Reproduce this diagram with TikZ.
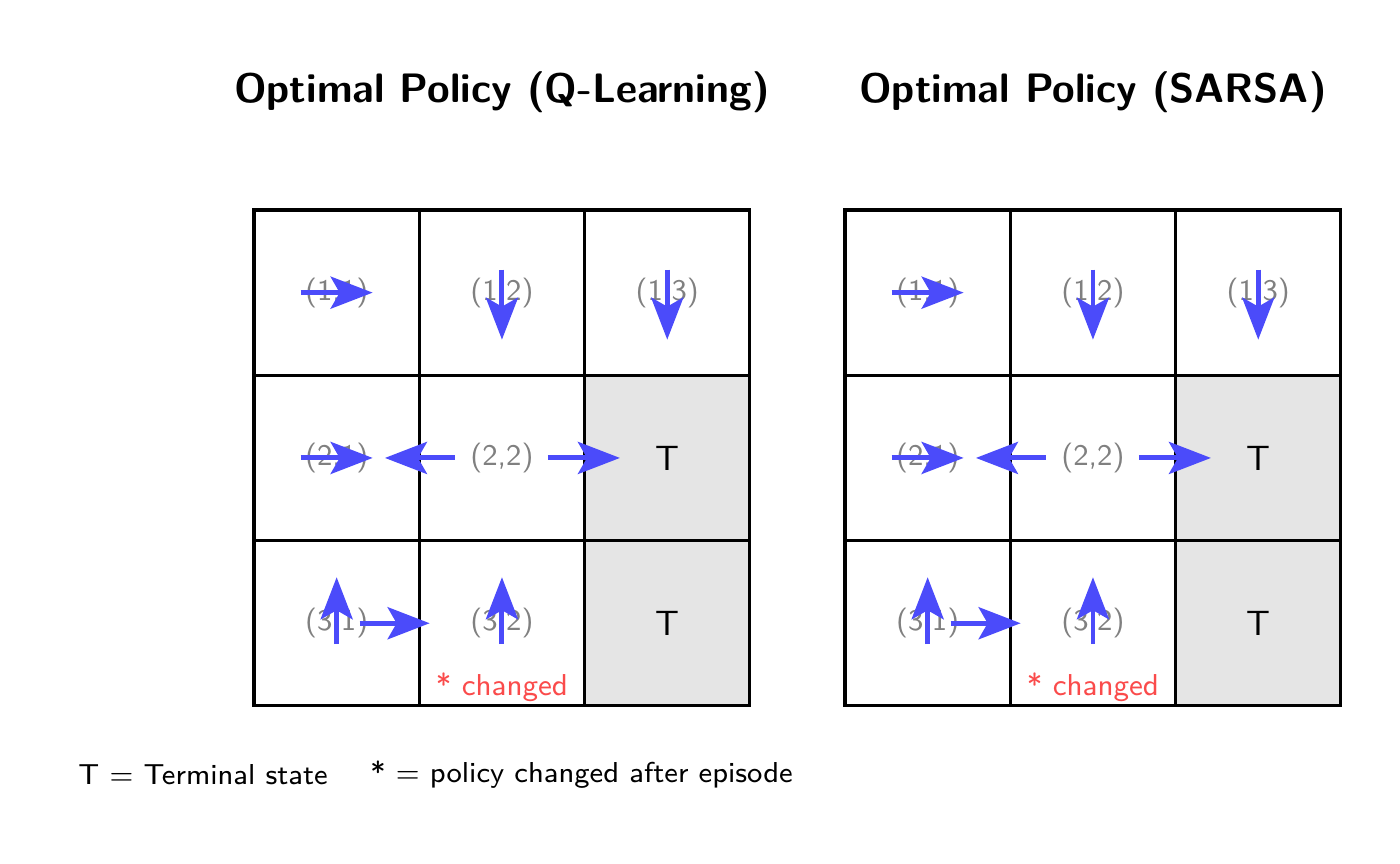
\documentclass[tikz,border=0pt]{standalone}
\usepackage{tikz}
\usetikzlibrary{arrows.meta, positioning, calc}
\definecolor{policyBlue}{RGB}{75, 75, 250}
\definecolor{changedRed}{RGB}{250, 75, 75}
\definecolor{terminalGray}{RGB}{229, 229, 229}
\renewcommand{\familydefault}{\sfdefault}

\begin{document}
\begin{tikzpicture}[
        cell/.style={rectangle, draw=black, line width=0.9pt, minimum size=1.653cm, inner sep=0pt, font=\fontsize{8.5}{10}\selectfont, text=gray},
        term/.style={cell, fill=terminalGray, text=black, font=\fontsize{10}{12}\selectfont},
        arrow/.style={-{Stealth[length=4.2mm, width=3.2mm, inset=0.9mm]}, line width=1.4pt, policyBlue},
        title/.style={font=\fontsize{11.7}{14}\selectfont\bfseries}
    ]
        \useasboundingbox (0,0) rectangle (14,8.63);

        % Titles
        \node[title] (t1) at (5.02,7.71) {Optimal Policy (Q-Learning)};
        \node[title] (t2) at (10.93,7.71) {Optimal Policy (SARSA)};

        % Grids
        \foreach \g/\ox in {a/2.54, b/8.45} {
            \foreach \r in {1,2,3} {
                \foreach \c in {1,2,3} {
                    \coordinate (\g\r\c) at ({\ox+(\c-0.5)*1.653}, {6.53-(\r-0.5)*1.653});
                }
            }
            \foreach \r/\c in {1/1, 1/2, 1/3, 2/1, 2/2, 3/1, 3/2}
                \node[cell] (\g c\r\c) at (\g\r\c) {(\r,\c)};
            \node[term] (\g c23) at (\g23) {T};
            \node[term] (\g c33) at (\g33) {T};

            % Policy arrows
            \draw[arrow] ($(\g11)+(-0.36,0)$) -- ($(\g11)+(0.36,0)$);
            \draw[arrow] ($(\g12)+(0,0.23)$) -- ($(\g12)+(0,-0.47)$);
            \draw[arrow] ($(\g13)+(0,0.23)$) -- ($(\g13)+(0,-0.47)$);
            \draw[arrow] ($(\g21)+(-0.36,0)$) -- ($(\g21)+(0.36,0)$);
            \draw[arrow] ($(\g22)+(-0.47,0)$) -- ($(\g22)+(-1.17,0)$);
            \draw[arrow] ($(\g22)+(0.46,0)$) -- ($(\g22)+(1.18,0)$);
            \draw[arrow] ($(\g31)+(0,-0.21)$) -- ($(\g31)+(0,0.46)$);
            \draw[arrow] ($(\g31)+(0.23,0)$) -- ($(\g31)+(0.93,0)$);
            \draw[arrow] ($(\g32)+(0,-0.21)$) -- ($(\g32)+(0,0.46)$);

            % Changed marker
            \node[text=changedRed, font=\fontsize{8.6}{10}\selectfont] (\g chg) at ($(\g32)+(0,-0.64)$) {* changed};
        }

        % Legend
        \node[anchor=west, font=\fontsize{8.2}{10}\selectfont] (leg1) at (0.66,0.88) {T = Terminal state};
        \node[anchor=west, font=\fontsize{8.2}{10}\selectfont] (leg2) at (3.58,0.88) {* = policy changed after episode};
    \end{tikzpicture}
\end{document}
